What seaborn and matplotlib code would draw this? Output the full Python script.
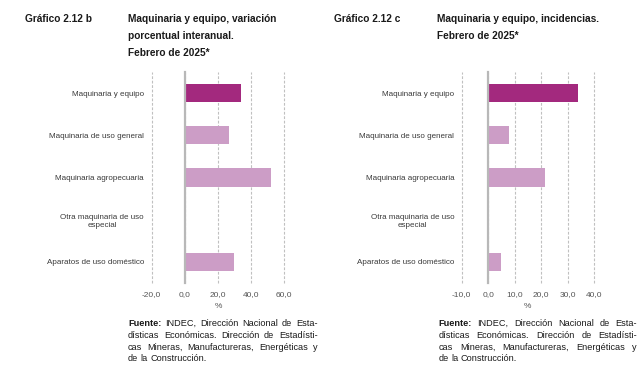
import matplotlib
matplotlib.use("Agg")
import matplotlib.pyplot as plt
import seaborn as sns
import pandas as pd
from matplotlib.ticker import FixedLocator, FuncFormatter

categorias = ["Maquinaria y equipo", "Maquinaria de uso general", "Maquinaria agropecuaria",
              "Otra maquinaria de uso\nespecial", "Aparatos de uso doméstico"]
variacion_b = [34.0, 26.4, 52.1, 0.3, 29.8]
incidencia_c = [34.1, 7.8, 21.4, 0.0, 4.8]
ticks_b = [-20, 0, 20, 40, 60]
ticks_c = [-10, 0, 10, 20, 30, 40]

titulo_b = ["Maquinaria y equipo, variación", "porcentual interanual.", "Febrero de 2025*"]
titulo_c = ["Maquinaria y equipo, incidencias.", "Febrero de 2025*"]
fuente_lineas = [
    [("Fuente:", True), ("INDEC,", False), ("Dirección", False), ("Nacional", False), ("de", False), ("Esta-", False)],
    [("dísticas", False), ("Económicas.", False), ("Dirección", False), ("de", False), ("Estadísti-", False)],
    [("cas", False), ("Mineras,", False), ("Manufactureras,", False), ("Energéticas", False), ("y", False)],
    [("de", False), ("la", False), ("Construcción.", False)],
]

colores = ["#A3297E", "#CC9DC6", "#CC9DC6", "#CC9DC6", "#CC9DC6"]

sns.set_theme(style="white")
plt.rcParams["font.family"] = ["Liberation Sans", "DejaVu Sans"]

W, H = 641, 368
fig = plt.figure(figsize=(W / 100, H / 100), dpi=100)


def px(x, y):
    return x / W, 1 - y / H


def panel(left_px, right_px, valores, ticks, pad_pt):
    l, b = px(left_px, 283)
    _, t = px(0, 72)
    ax = fig.add_axes([l, b, (right_px - left_px) / W, t - b])
    df = pd.DataFrame({"cat": categorias, "val": valores})
    sns.barplot(data=df, x="val", y="cat", hue="cat", palette=colores, width=0.43,
                dodge=False, legend=False, ax=ax, saturation=1, edgecolor="none")
    ax.set_xlim(ticks[0], ticks[-1])
    ax.set_ylim(4.5, -0.5)
    ax.xaxis.set_major_locator(FixedLocator(ticks))
    ax.xaxis.set_major_formatter(FuncFormatter(lambda v, p: f"{v:.1f}".replace(".", ",")))
    ax.grid(axis="x", color="#c0c0c0", linestyle=(0, (2.5, 1.5)), linewidth=0.8)
    for gl in ax.get_xgridlines():
        gl.set_clip_on(False)
    ax.set_axisbelow(True)
    for s in ["top", "right", "bottom"]:
        ax.spines[s].set_visible(False)
    ax.spines["left"].set_position(("data", 0))
    ax.spines["left"].set_color("#b8b8b8")
    ax.spines["left"].set_linewidth(1.6)
    ax.spines["left"].set_zorder(3)
    ax.yaxis.set_minor_locator(FixedLocator([-0.5, 0.5, 1.5, 2.5, 3.5, 4.5]))
    ax.tick_params(axis="y", which="major", length=0, pad=pad_pt, labelsize=5.8, labelcolor="#3a3a3a")
    ax.tick_params(axis="y", which="minor", length=2.2, width=0.7, color="#777777", direction="out")
    for lab in ax.get_yticklabels():
        lab.set_multialignment("center")
    ax.tick_params(axis="x", length=0, pad=6, labelsize=6.0, labelcolor="#555555")
    ax.set_xlabel("%", fontsize=6.0, color="#555555", labelpad=3)
    ax.set_ylabel("")
    return ax


panel(151.7, 284.3, variacion_b, ticks_b, 29.5)
panel(461.7, 594.0, incidencia_c, ticks_c, 24.5)

tfont = ["Liberation Sans", "DejaVu Sans"]
tfs = 7.3
for x, txt in [(25, "Gráfico 2.12 b"), (334, "Gráfico 2.12 c")]:
    fig.text(*px(x, 22.5), txt, fontsize=tfs, fontweight="bold", family=tfont, color="#1a1a1a", va="baseline")
for x, lines in [(128, titulo_b), (437, titulo_c)]:
    for i, line in enumerate(lines):
        fig.text(*px(x, 22.5 + 16.5 * i), line, fontsize=tfs, fontweight="bold", family=tfont,
                 color="#1a1a1a", va="baseline")

renderer = fig.canvas.get_renderer()


def justified(x0, x1, y0, lines, fs=6.6, lh=11.8):
    for i, words in enumerate(lines):
        y = y0 + lh * i
        widths = []
        for w, bold in words:
            t = fig.text(0, 0, w, fontsize=fs, fontweight="bold" if bold else "normal")
            widths.append(t.get_window_extent(renderer).width)
            t.remove()
        if i < len(lines) - 1:
            gap = (x1 - x0 - sum(widths)) / (len(words) - 1)
        else:
            gap = fs * 1.389 * 0.28
        x = x0
        for (w, bold), wd in zip(words, widths):
            fig.text(*px(x, y), w, fontsize=fs, fontweight="bold" if bold else "normal",
                     color="#1a1a1a", va="baseline")
            x += wd + gap


justified(128, 317.5, 326, fuente_lineas)
justified(438.3, 637, 326, fuente_lineas)

fig.savefig("out.png", dpi=100)
